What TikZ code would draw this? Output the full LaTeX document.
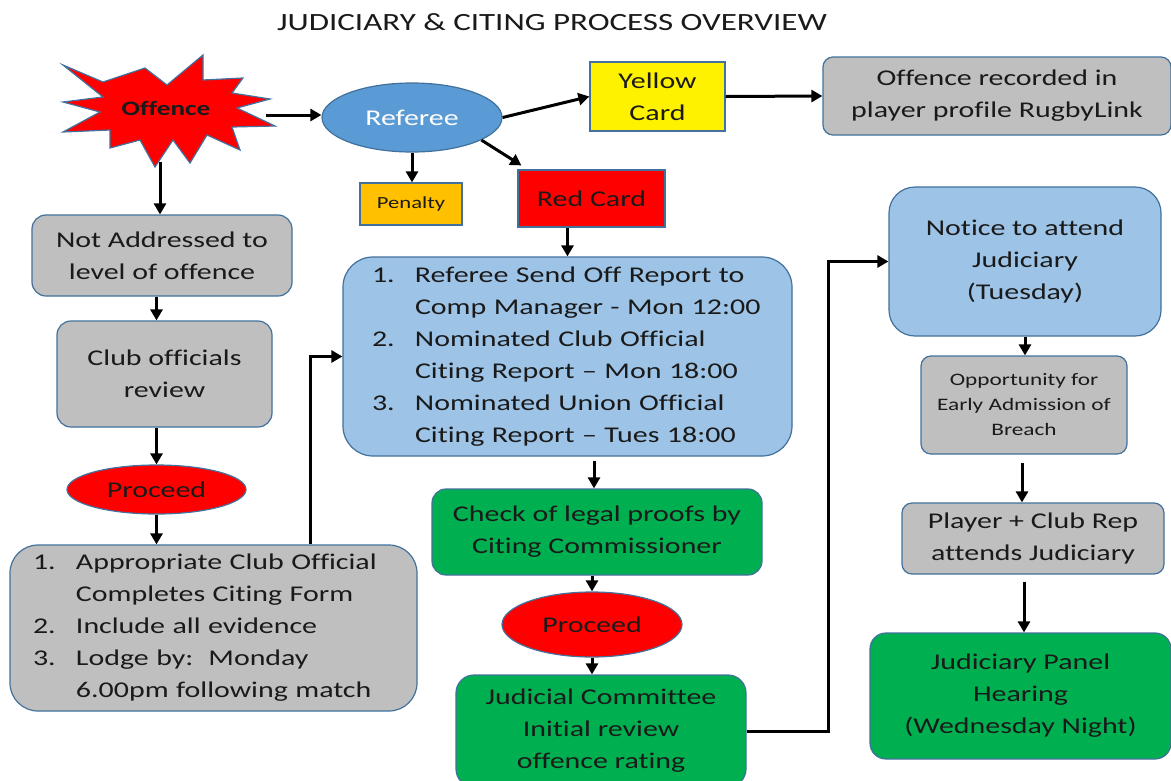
\documentclass[tikz,border=0pt]{standalone}
\usepackage{fontspec}
\setmainfont{Carlito}[FakeStretch=1.33,Ligatures={NoCommon}]
\usetikzlibrary{arrows.meta,shapes.geometric,calc}
\definecolor{bord}{HTML}{41719C}
\definecolor{grayf}{HTML}{BFBFBF}
\definecolor{lblue}{HTML}{9DC3E6}
\definecolor{mblue}{HTML}{5B9BD5}
\definecolor{gr}{HTML}{00B050}
\definecolor{orng}{HTML}{FFC000}
\definecolor{txt}{HTML}{1A1A1A}
\newlength{\numw}
\setlength{\numw}{43pt}
\begin{document}
\begin{tikzpicture}[x=1pt,y=-1pt,
  box/.style={draw=bord,line width=1.2pt,rounded corners=14pt,align=center,text=txt,inner sep=0pt,
    font=\fontsize{22.5}{32}\selectfont},
  sqbox/.style={draw=bord,line width=1.2pt,align=center,text=txt,inner sep=0pt,
    font=\fontsize{22.5}{32}\selectfont},
  oval/.style={ellipse,draw=bord,line width=1.2pt,align=center,text=txt,inner sep=0pt,
    font=\fontsize{22.5}{32}\selectfont},
  arr/.style={line width=3pt,-{Triangle[length=11pt,width=12pt]}},
  sz/.style 2 args={minimum width=#1,minimum height=#2}
]
\useasboundingbox[fill=white] (0,0) rectangle (1171,780);

% title
\node[font=\fontsize{24.8}{28}\selectfont,text=txt] (title) at (552,22) {JUDICIARY \& CITING PROCESS OVERVIEW};

% offence star
\draw[fill=red,draw=bord,line width=1.2pt,line join=miter]
 (63,65) -- (103,82) -- (145,68) -- (167,85) -- (203,55) -- (203,80) -- (243,78) -- (232,93)
 -- (270,99) -- (237,108) -- (275,126) -- (232,127) -- (240,150) -- (207,135) -- (190,163)
 -- (173,140) -- (155,167) -- (140,140) -- (110,148) -- (110,130) -- (63,132) -- (100,112)
 -- (63,102) -- (103,97) -- cycle;
\node[font=\fontsize{20.5}{22}\selectfont\bfseries,text=txt] (off) at (166,108) {Offence};
\coordinate (offE) at (266,115);
\coordinate (offS) at (160,162);

% nodes
\node[oval,fill=mblue,sz={180pt}{69pt},text=white] (ref) at (412,117.5) {Referee};
\node[sqbox,fill=yellow,sz={135pt}{69pt}] (yel) at (657.5,96.5) {Yellow\\Card};
\node[box,fill=grayf,sz={348pt}{78pt},rounded corners=10pt] (rec) at (997,96) {Offence recorded in\\player profile RugbyLink};
\node[sqbox,fill=orng,sz={102pt}{42pt},font=\fontsize{17}{20}\selectfont] (pen) at (411,204) {Penalty};
\node[sqbox,fill=red,sz={147pt}{57pt}] (redc) at (591.5,198.5) {Red Card};

\node[box,fill=grayf,sz={260pt}{81pt}] (nad) at (162,255.5) {Not Addressed to\\level of offence};
\node[box,fill=grayf,sz={215pt}{106pt}] (club) at (164.5,374) {Club officials\\review};
\node[oval,fill=red,sz={179pt}{49pt}] (proc1) at (156.5,489.5) {Proceed};
\node[box,fill=grayf,sz={407pt}{166pt},rounded corners=28pt,align=left,text width=361pt] (app) at (213.5,628)
 {\makebox[\numw][l]{1.}Appropriate Club Official\\
  \hspace*{\numw}Completes Citing Form\\
  \makebox[\numw][l]{2.}Include all evidence\\
  \makebox[\numw][l]{3.}Lodge by:\ \ Monday\\
  \hspace*{\numw}6.00pm following match};

\node[box,fill=lblue,sz={449pt}{199pt},rounded corners=30pt,align=left,text width=391pt] (rep) at (567.5,356.5)
 {\makebox[\numw][l]{1.}Referee Send Off Report to\\
  \hspace*{\numw}Comp Manager - Mon 12:00\\
  \makebox[\numw][l]{2.}Nominated Club Official\\
  \hspace*{\numw}Citing Report -- Mon 18:00\\
  \makebox[\numw][l]{3.}Nominated Union Official\\
  \hspace*{\numw}Citing Report -- Tues 18:00};

\node[box,fill=gr,sz={330pt}{86pt}] (chk) at (597,532) {Check of legal proofs by\\Citing Commissioner};
\node[oval,fill=red,sz={180pt}{65pt}] (proc2) at (592,624.5) {Proceed};
\node[box,fill=gr,sz={290pt}{112pt},rounded corners=18pt] (jud) at (601,731) {Judicial Committee\\Initial review\\offence rating};

\node[box,fill=lblue,sz={272pt}{149pt},rounded corners=26pt] (not) at (1025,261.5) {Notice to attend\\Judiciary\\(Tuesday)};
\node[box,fill=grayf,sz={206pt}{98pt},rounded corners=10pt,font=\fontsize{17.5}{25}\selectfont] (opp) at (1024,405) {Opportunity for\\Early Admission of\\Breach};
\node[box,fill=grayf,sz={262pt}{71pt},rounded corners=10pt] (ply) at (1033,538.5) {Player + Club Rep\\attends Judiciary};
\node[box,fill=gr,sz={301pt}{126pt},rounded corners=16pt] (pan) at (1020.5,696) {Judiciary Panel\\Hearing\\(Wednesday Night)};

% connectors
\draw[arr] (offE) -- (offE -| ref.west);
\draw[arr] (offS) -- (offS |- nad.north);
\draw[arr] (ref.east) -- (yel.west);
\draw[arr] (yel.east) -- (rec.west);
\draw[arr] (ref.south) -- (ref.south |- pen.north);
\draw[arr] (ref.-18) -- ([shift={(4pt,4pt)}]redc.north west);
\draw[arr] (redc.south -| rep.north) -- (rep.north);
\draw[arr] (proc1 |- nad.south) -- (proc1 |- club.north);
\draw[arr] (proc1 |- club.south) -- (proc1.north);
\draw[arr] (proc1.south) -- (proc1 |- app.north);
\draw[arr] ([xshift=96.5pt]app.north) |- (rep.west);
\draw[arr] ($(chk.north |- rep.south)+(-3,4)$) -- ($(chk.north)+(-3,0)$);
\draw[arr] (proc2.north |- chk.south) -- (proc2.north);
\draw[arr] (proc2.south) -- (proc2.south |- jud.north);
\draw[arr] (jud.east) -- ++(82,0) |- (not.west);
\draw[arr] (not.south) -- (not.south |- opp.north);
\draw[arr] ($(opp.south)+(-2,8)$) -- ($(opp.south |- ply.north)+(-2,0)$);
\draw[arr] ($(opp.south |- ply.south)+(0,7)$) -- (opp.south |- pan.north);
\end{tikzpicture}
\end{document}
